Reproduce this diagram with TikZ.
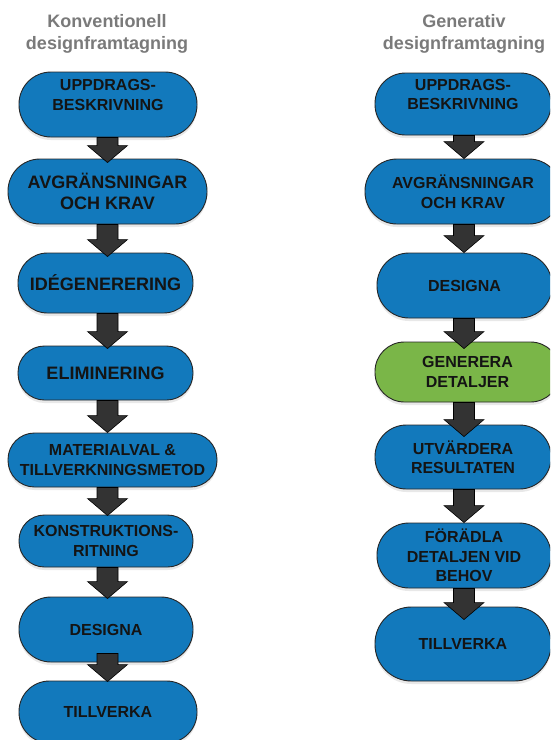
\documentclass[tikz,border=0pt]{standalone}
\usepackage{fontspec}
\setmainfont{Liberation Sans}
\usetikzlibrary{shadows,calc}
\definecolor{boxblue}{HTML}{1279BC}
\definecolor{boxgreen}{HTML}{7AB648}
\definecolor{arrowgray}{HTML}{333333}
\definecolor{titlegray}{HTML}{7A7A7A}
\tikzset{
  stepbox/.style={rectangle, draw=black!85, line width=0.9pt, fill=boxblue,
    text=black!92, align=center, inner sep=2pt,
    font=\bfseries\fontsize{16}{19.5}\selectfont,
    drop shadow={shadow xshift=0pt, shadow yshift=-3pt, opacity=0.18}},
  pill/.style n args={3}{minimum width=#1pt, minimum height=#2pt, rounded corners=#3pt},
  bigtext/.style={font=\bfseries\fontsize{18}{21}\selectfont},
  greenbox/.style={fill=boxgreen},
  flowarrow/.style={fill=arrowgray, draw=black, line width=0.6pt, line join=miter},
  titletext/.style={text=titlegray, align=center, font=\bfseries\fontsize{18}{22}\selectfont}
}
% #1 column coordinate, #2 source node, #3 target node, #4 start offset upward, #5 tip overlap downward
\newcommand\flowarr[5]{%
  \coordinate (as) at ($(#1 |- #2.south)+(0,-#4)$);
  \coordinate (at) at ($(#1 |- #3.north)+(0,#5)$);
  \filldraw[flowarrow] ($(as)+(-10.5,0)$) -- ($(at)+(-10.5,-17)$) -- ($(at)+(-20,-17)$) -- (at)
    -- ($(at)+(20,-17)$) -- ($(at)+(10.5,-17)$) -- ($(as)+(10.5,0)$) -- cycle;
}
\begin{document}
\begin{tikzpicture}[x=1pt, y=-1pt]
\useasboundingbox (0,0) rectangle (550,740);
\clip (0,0) rectangle (550,740);
\fill[white] (0,0) rectangle (550,740);
\coordinate (colL) at (107.5,0);
\coordinate (colR) at (464,0);

% titles
\node[titletext] (tL) at (107,34) {Konventionell\\designframtagning};
\node[titletext] (tR) at (464,34) {Generativ\\designframtagning};

% left column
\node[stepbox, pill={178}{65}{32}] (b1) at (108,104.5) {UPPDRAGS-\\BESKRIVNING\\\mbox{}};
\node[stepbox, bigtext, pill={199}{65}{32}] (b2) at (107.5,191.5) {AVGRÄNSNINGAR\\OCH KRAV};
\node[stepbox, bigtext, pill={175}{60}{29.5}] (b3) at (105.5,283) {IDÉGENERERING};
\node[stepbox, bigtext, pill={175}{54}{26.5}] (b4) at (105.5,373) {ELIMINERING};
\node[stepbox, pill={209}{54}{26.5}] (b5) at (112.5,460) {MATERIALVAL \&\\TILLVERKNINGSMETOD};
\node[stepbox, pill={174}{52}{25.5}] (b6) at (106,541) {KONSTRUKTIONS-\\RITNING};
\node[stepbox, pill={174}{65}{32}] (b7) at (106,629.5) {DESIGNA};
\node[stepbox, pill={178}{62}{30.5}] (b8) at (108,712) {TILLVERKA};

% right column
\node[stepbox, pill={176}{62}{30.5}] (r1) at (463,104) {UPPDRAGS-\\BESKRIVNING\\\mbox{}};
\node[stepbox, pill={196}{65}{32}] (r2) at (463,191.5) {AVGRÄNSNINGAR\\OCH KRAV};
\node[stepbox, pill={175}{65}{32}] (r3) at (464.5,285.5) {DESIGNA};
\node[stepbox, greenbox, pill={185}{60}{29.5}] (r4) at (467.5,372) {GENERERA\\DETALJER};
\node[stepbox, pill={176}{64}{31.5}] (r5) at (463,457) {UTVÄRDERA\\RESULTATEN};
\node[stepbox, pill={174}{65}{32}] (r6) at (464,555.5) {FÖRÄDLA\\DETALJEN VID\\BEHOV};
\node[stepbox, pill={176}{74}{36.5}] (r7) at (463,644) {TILLVERKA};

% left arrows
\flowarr{colL}{b1}{b2}{0}{4}
\flowarr{colL}{b2}{b3}{0}{4}
\flowarr{colL}{b3}{b4}{0}{3}
\flowarr{colL}{b4}{b5}{0}{0}
\flowarr{colL}{b5}{b6}{0}{1}
\flowarr{colL}{b6}{b7}{0}{2}
\flowarr{colL}{b7}{b8}{9}{1}

% right arrows
\flowarr{colR}{r1}{r2}{0}{0}
\flowarr{colR}{r2}{r3}{0}{0}
\flowarr{colR}{r3}{r4}{0}{7}
\flowarr{colR}{r4}{r5}{0}{12}
\flowarr{colR}{r5}{r6}{0}{0}
\flowarr{colR}{r6}{r7}{0}{13}
\end{tikzpicture}
\end{document}
